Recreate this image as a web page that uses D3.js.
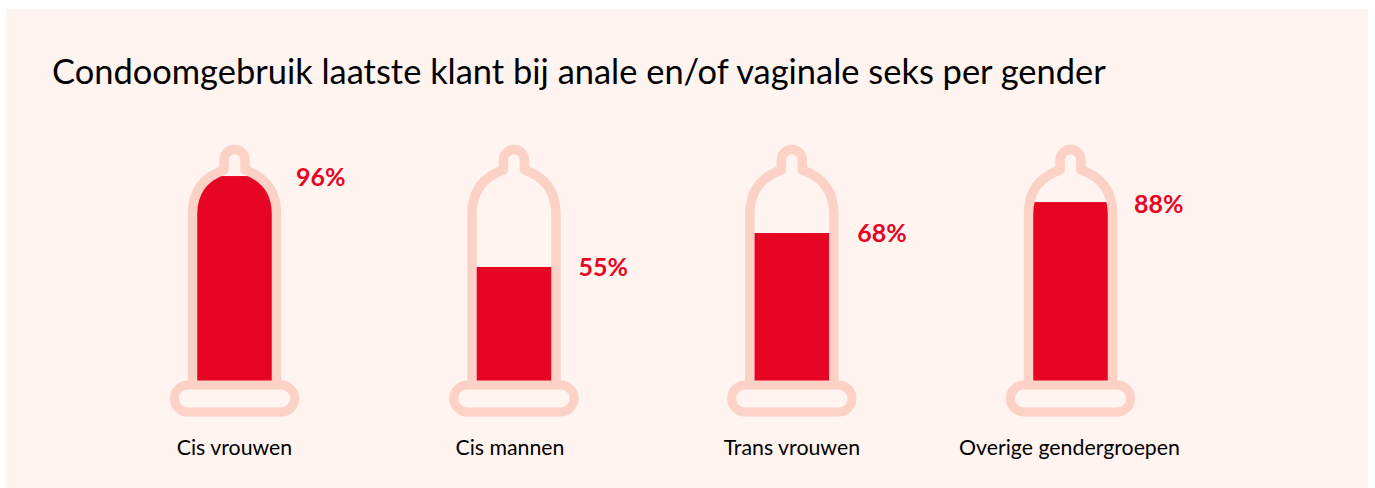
<!DOCTYPE html>
<html><head><meta charset="utf-8">
<script src="https://cdn.jsdelivr.net/npm/d3@7"></script>
<style>html,body{margin:0;padding:0;background:#fff}svg{display:block}text{font-family:Lato,"Open Sans",sans-serif}</style>
</head><body><div id="chart"></div>
<script>
const titleText = "Condoomgebruik laatste klant bij anale en/of vaginale seks per gender";
const categories = ["Cis vrouwen","Cis mannen","Trans vrouwen","Overige gendergroepen"];
const labels = [96,55,68,88];
// drawn fill level (the reference's fills are not strictly proportional)
const fillLevels = [96,53.4,69.3,83.8];

const W=1375,H=488, BG="#fff4f0", PALE="#fcd2c6", RED="#e60523";
const svg=d3.select("#chart").append("svg").attr("width",W).attr("height",H);
svg.append("rect").attr("x",6).attr("y",9).attr("width",1362).attr("height",479).attr("fill",BG);
svg.append("text").attr("x",52).attr("y",84).attr("font-size",34.45).attr("fill","#000").text(titleText);

const x=d3.scalePoint().domain(categories).range([234.5,1070.5]);
const nudge=[0,0.8,0,0];
const y=d3.scaleLinear().domain([0,100]).range([381,167.5]);

function body(){
  const p=d3.path();
  p.moveTo(-42,381);
  p.lineTo(-42,214);
  p.bezierCurveTo(-42,191,-31,177,-10.5,170);
  p.lineTo(-10.5,160);
  p.arc(0,160,10.5,Math.PI,0,false);
  p.lineTo(10.5,170);
  p.bezierCurveTo(31,177,42,191,42,214);
  p.lineTo(42,381);
  return p.toString();
}
svg.append("defs").append("clipPath").attr("id","inner").append("path").attr("d",body()+"Z");

const g=svg.selectAll("g.c").data(categories).join("g").attr("class","c")
  .attr("transform",(d,i)=>`translate(${x(d)+nudge[i]},0)`);
g.append("g").attr("clip-path","url(#inner)").append("rect")
  .attr("x",-45).attr("width",90)
  .attr("y",(d,i)=>y(fillLevels[i])).attr("height",(d,i)=>y(0)-y(fillLevels[i]))
  .attr("fill",RED);
g.append("path").attr("d",body()).attr("fill","none").attr("stroke",PALE)
  .attr("stroke-width",9.5).attr("stroke-linejoin","round");
g.append("rect").attr("x",-60.2).attr("y",385).attr("width",120.4).attr("height",27).attr("rx",13.5)
  .attr("fill",BG).attr("stroke",PALE).attr("stroke-width",9);
g.append("text").attr("x",(d,i)=>[61.5,64.5,65.5,63.5][i]).attr("y",(d,i)=>y(fillLevels[i])+[9.5,9.5,9,10.5][i])
  .attr("font-size",25).attr("font-weight",700).attr("fill",RED).text((d,i)=>labels[i]+"%");
g.append("text").attr("x",(d,i)=>[0,-4,0,-1][i]).attr("y",455).attr("text-anchor","middle")
  .attr("font-size",21.3).attr("fill","#000").text(d=>d);
</script></body></html>
